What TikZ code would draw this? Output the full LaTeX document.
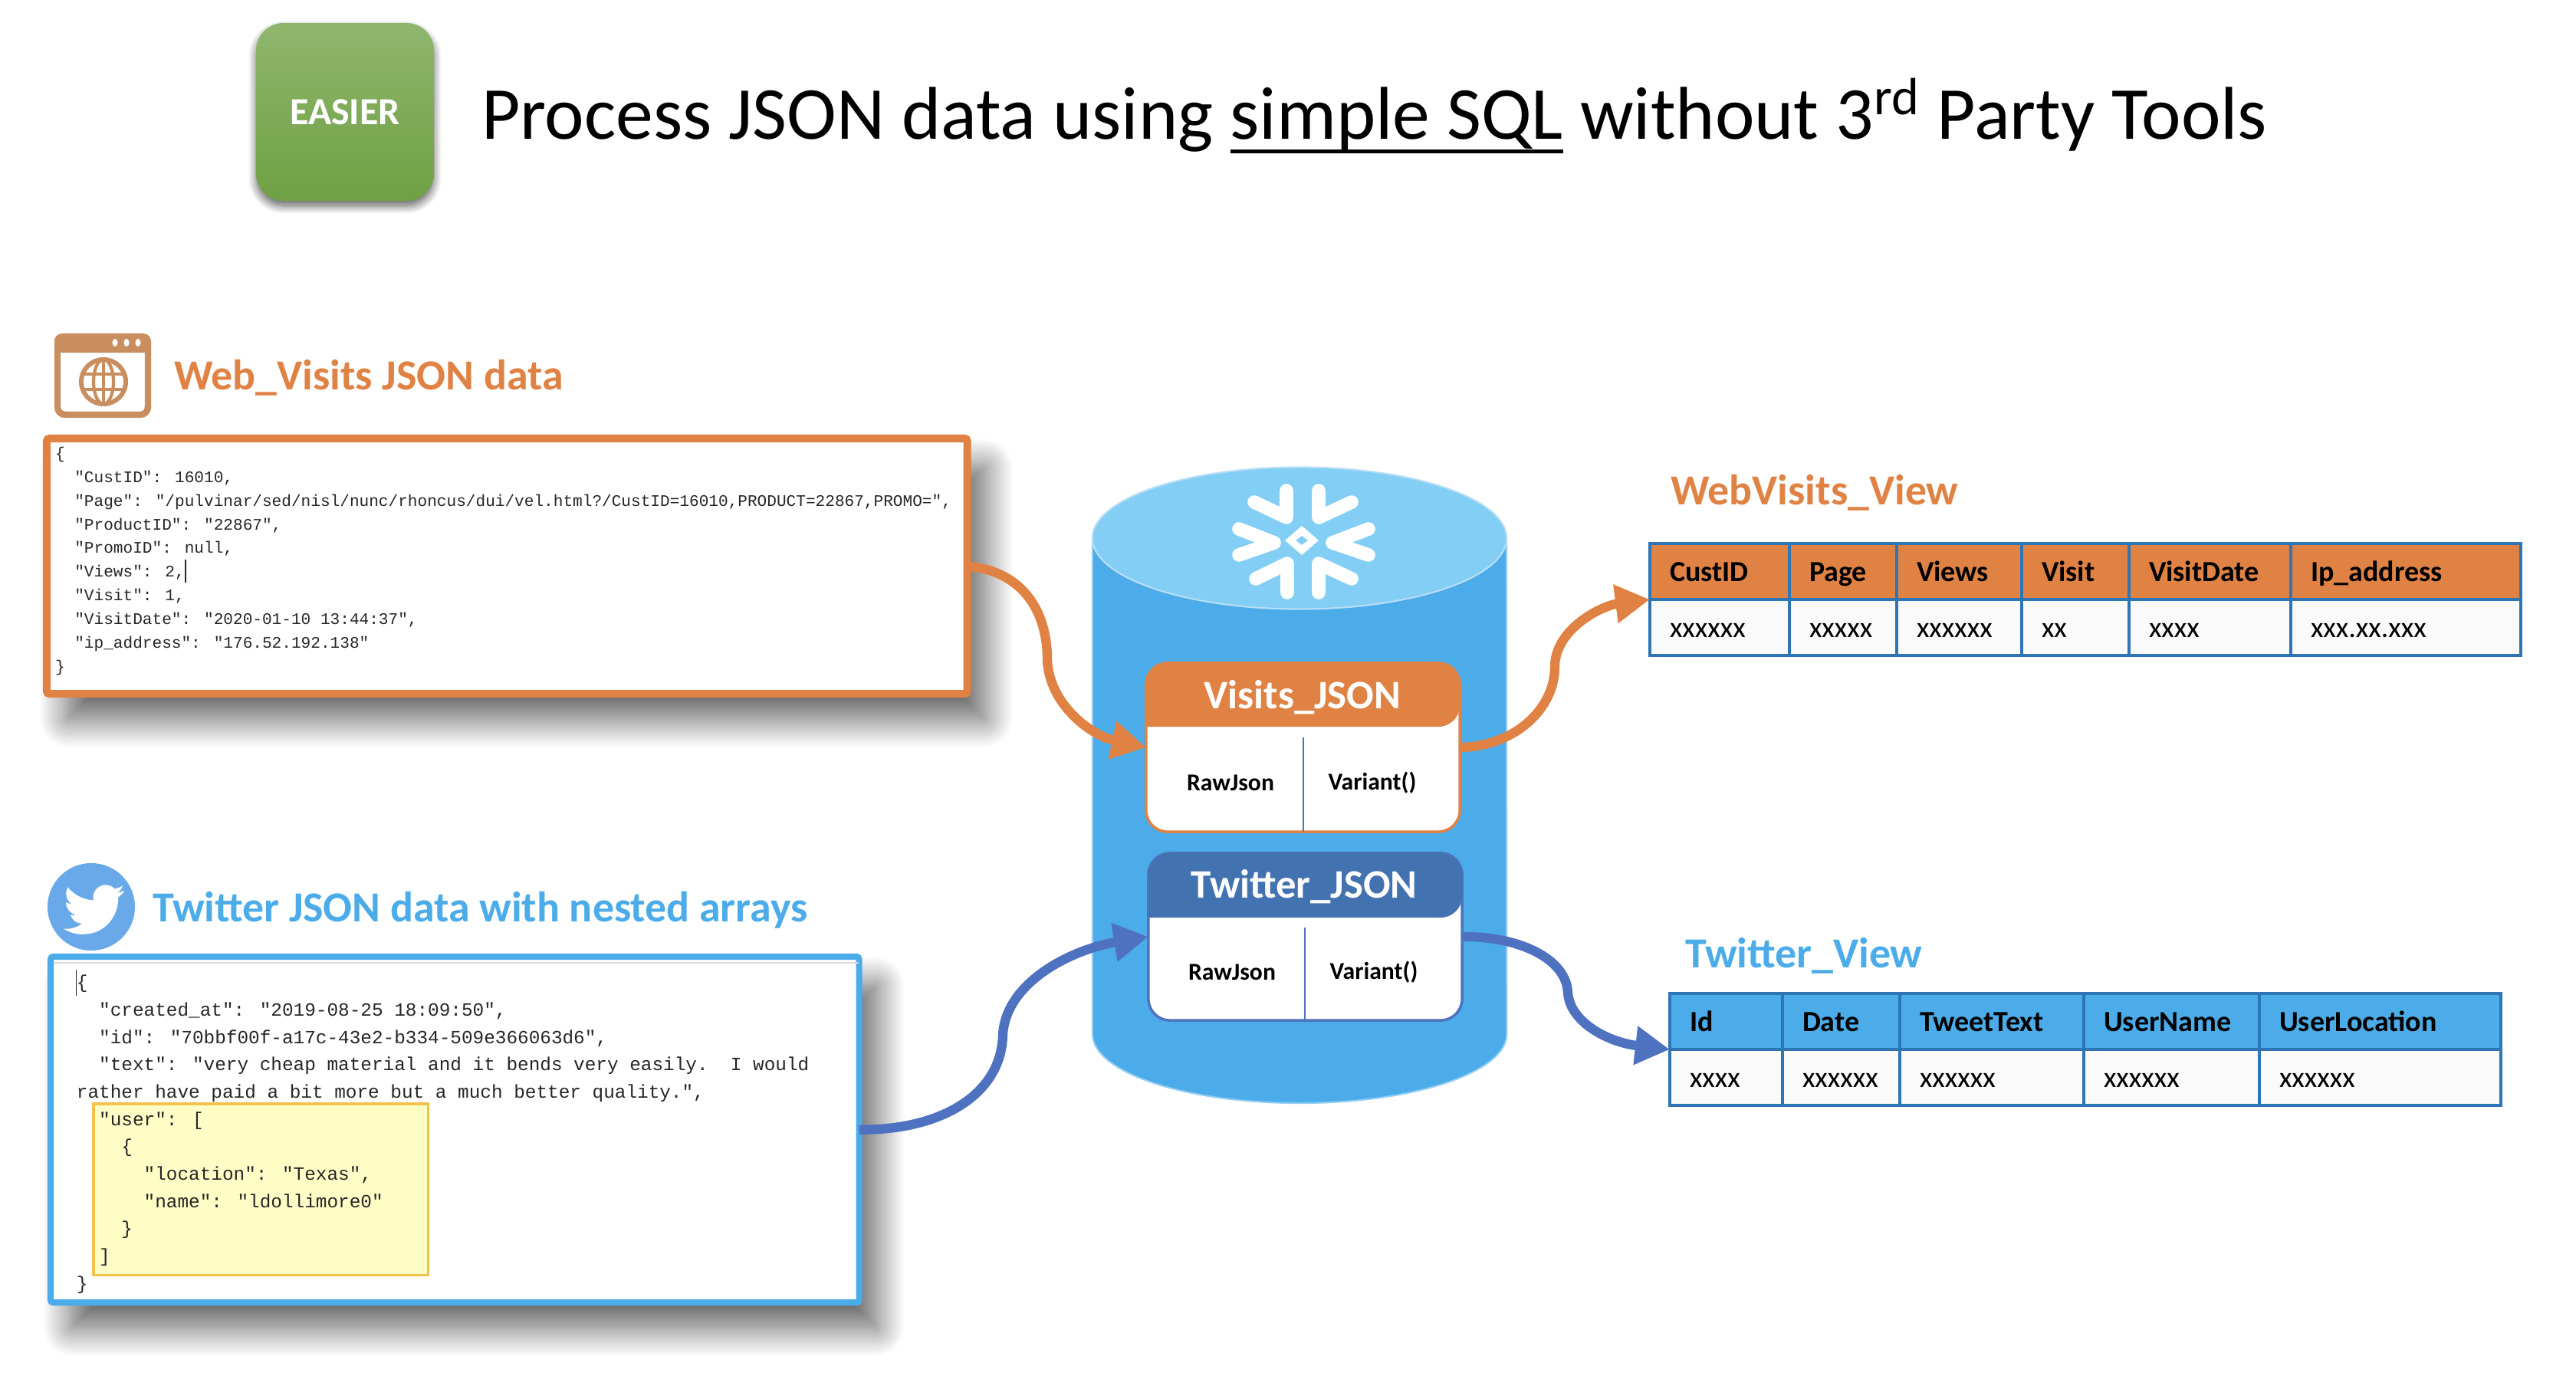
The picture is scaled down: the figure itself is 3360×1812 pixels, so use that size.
\documentclass[tikz,border=0pt]{standalone}
\usepackage{fontspec}
\setmainfont{Carlito}
\newfontfamily\codefont{Liberation Mono}
\usepackage{tikz}
\usetikzlibrary{calc, positioning, arrows.meta, shapes.geometric, shadows.blur}

\definecolor{orangeC}{HTML}{E08244}
\definecolor{blueC}{HTML}{4BACE9}
\definecolor{topC}{HTML}{83CEF4}
\definecolor{navyC}{HTML}{4272B0}
\definecolor{flowC}{HTML}{4E72C0}
\definecolor{lineC}{HTML}{2E75B6}
\definecolor{iconC}{HTML}{C98E5F}
\definecolor{birdC}{HTML}{6AA9E9}
\definecolor{greenTop}{HTML}{8FB66E}
\definecolor{greenBot}{HTML}{70A044}
\definecolor{noteFill}{HTML}{FFFDC6}
\definecolor{noteLine}{HTML}{F4C24A}

\newcommand{\ind}{\hspace*{1.2em}}
\newsavebox{\ulbox}
\newcommand{\heavyul}[1]{\sbox{\ulbox}{#1}\rlap{\rule[-5.5pt]{\wd\ulbox}{1.4pt}}\usebox{\ulbox}}

\tikzset{
    every node/.style={outer sep=0pt},
    srcbox/.style={rectangle, fill=white, anchor=north west, rounded corners=1pt,
        blur shadow={shadow xshift=.25cm, shadow yshift=-.35cm, shadow blur radius=.35cm, shadow opacity=60, shadow blur steps=24}},
    heading/.style={font=\fontsize{15.9}{19}\selectfont\bfseries, anchor=base west, inner sep=0pt},
    codetext/.style={anchor=north west, inner sep=0pt, align=left, text=black!85},
    jsontable/.style={rectangle, fill=white, rounded corners=.28cm, line width=1pt},
    colname/.style={font=\fontsize{9}{11}\selectfont\bfseries, inner sep=0pt},
    tabletitle/.style={font=\fontsize{15}{18}\selectfont\bfseries, text=white, inner sep=0pt},
    viewcell/.style={rectangle, draw=lineC, line width=1pt, anchor=north west, inner xsep=.26cm, inner ysep=0pt,
        minimum height=.73cm, align=left, text height=.25cm, text depth=0cm,
        font=\fontsize{10.8}{12}\selectfont},
    flow/.style={line width=3.5pt, -{Triangle[length=.45cm, width=.48cm]}},
    flake/.style={draw=white, line width=5pt, line cap=round, line join=round},
}

\begin{document}
\begin{tikzpicture}[x=.01cm, y=-.01cm]
    \useasboundingbox (0,0) rectangle (3360,1812);

    % headline
    \node (easier) [rectangle, minimum width=2.32cm, minimum height=2.32cm, rounded corners=.36cm,
        top color=greenTop, bottom color=greenBot,
        text=white, font=\fontsize{14.2}{16}\selectfont\bfseries,
        blur shadow={shadow xshift=0cm, shadow yshift=-.07cm, shadow blur radius=.1cm, shadow opacity=60, shadow blur steps=10}] at (450,146) {EASIER};
    \node (headline) [anchor=base west, inner sep=0pt, font=\fontsize{27.75}{32}\selectfont] at (628,181)
        {Process JSON data using \heavyul{simple SQL} without 3\textsuperscript{rd} Party Tools};

    % web visits source
    \draw[iconC, fill=white, line width=2.4pt, rounded corners=.1cm] (75,439) rectangle (193,541);
    \fill[iconC, rounded corners=.1cm] (71,435) rectangle (197,460);
    \foreach \dotx in {150,165,180} {
        \fill[white] (\dotx,447) ellipse [x radius=.035cm, y radius=.05cm];
    }
    \draw[iconC, line width=1.7pt] (135,498) circle [radius=.29cm];
    \draw[iconC, line width=1.2pt] (135,498) ellipse [x radius=.13cm, y radius=.29cm];
    \draw[iconC, line width=1.2pt] (135,469) -- (135,527) (109,488) -- (161,488) (109,508) -- (161,508);
    \node (webtitle) [heading, text=orangeC] at (227,508) {Web\_Visits JSON data};

    \node (webbox) [srcbox, draw=orangeC, line width=2.85pt, minimum width=12cm, minimum height=3.33cm] at (61,572) {};
    \node (webcode) [codetext, font=\codefont\fontsize{6}{8.79}\selectfont] at (72,583) {%
        \{\\
        \ind"CustID": 16010,\\
        \ind"Page": "/pulvinar/sed/nisl/nunc/rhoncus/dui/vel.html?/CustID=16010,PRODUCT=22867,PROMO=",\\
        \ind"ProductID": "22867",\\
        \ind"PromoID": null,\\
        \ind"Views": 2,\rule[-2pt]{.5pt}{8.6pt}\\
        \ind"Visit": 1,\\
        \ind"VisitDate": "2020-01-10 13:44:37",\\
        \ind"ip\_address": "176.52.192.138"\\
        \}};

    % twitter source
    \node (birdicon) [circle, fill=birdC, minimum size=1.14cm, inner sep=0pt] at (119,1183) {};
    \begin{scope}[shift={(83,1147)}, x=.033cm, y=-.033cm]
        \fill[white] (23.95,4.57) .. controls (23.07,4.96) and (22.12,5.22) .. (21.13,5.345)
            .. controls (22.14,4.73) and (22.93,3.77) .. (23.29,2.62)
            .. controls (22.34,3.18) and (21.29,3.58) .. (20.16,3.80)
            .. controls (19.26,2.85) and (18.03,2.25) .. (16.57,2.25)
            .. controls (13.85,2.25) and (11.65,4.45) .. (11.65,7.17)
            .. controls (11.65,7.56) and (11.70,7.93) .. (11.78,8.29)
            .. controls (7.69,8.095) and (4.067,6.13) .. (1.64,3.162)
            .. controls (1.22,3.89) and (.974,4.73) .. (.974,5.637)
            .. controls (.974,7.347) and (1.844,8.85) .. (3.162,9.733)
            .. controls (2.35,9.71) and (1.59,9.48) .. (.934,9.117)
            -- (.934,9.177)
            .. controls (.934,11.56) and (2.63,13.55) .. (4.88,14.004)
            .. controls (4.17,14.19) and (3.41,14.22) .. (2.668,14.089)
            .. controls (3.29,16.04) and (5.11,17.46) .. (7.272,17.506)
            .. controls (5.58,18.83) and (3.45,19.611) .. (1.17,19.611)
            .. controls (.78,19.611) and (.391,19.588) .. (0,19.544)
            .. controls (2.18,20.94) and (4.77,21.753) .. (7.557,21.753)
            .. controls (16.61,21.753) and (21.555,14.257) .. (21.555,7.768)
            .. controls (21.555,7.558) and (21.555,7.348) .. (21.54,7.138)
            .. controls (22.5,6.45) and (23.33,5.58) .. (24,4.59) -- cycle;
    \end{scope}
    \node (tweettitle) [heading, text=blueC] at (199,1202) {Twitter JSON data with nested arrays};

    \node (tweetbox) [srcbox, draw=blueC, line width=2.3pt, minimum width=10.54cm, minimum height=4.51cm] at (66,1248) {};
    \draw[black!15, line width=.6pt] (70,1256) -- (1120,1256);
    \node (nested) [rectangle, draw=noteLine, fill=noteFill,
        line width=.9pt, minimum width=4.36cm, minimum height=2.23cm, anchor=north west] at (122,1440) {};
    \node (tweetcode) [codetext, font=\codefont\fontsize{6.93}{10.14}\selectfont] at (100,1265) {%
        \llap{\rule[-2.5pt]{.4pt}{9.6pt}}\{\\
        \ind"created\_at": "2019-08-25 18:09:50",\\
        \ind"id": "70bbf00f-a17c-43e2-b334-509e366063d6",\\
        \ind"text": "very cheap material and it bends very easily.~~I would\\
        rather have paid a bit more but a much better quality.",\\
        \ind"user": [\\
        \ind\ind\{\\
        \ind\ind\ind"location": "Texas",\\
        \ind\ind\ind"name": "ldollimore0"\\
        \ind\ind\}\\
        \ind]\\
        \}};

    % warehouse cylinder
    \path[fill=blueC, draw=blueC!60!white, line width=.6pt] (1425,702) -- (1425,1349)
        arc[start angle=180, end angle=360, x radius=2.7cm, y radius=.9cm] -- (1965,702) -- cycle;
    \node (dbtop) [ellipse, fill=topC, draw=blueC!40!white, line width=.6pt, minimum width=5.4cm, minimum height=1.85cm, inner sep=0pt] at (1695,702) {};
    \begin{scope}[shift={(1698,705)}]
        \draw[flake] (-20,-65) -- (-20,-30) -- (-62,-50);
        \draw[flake] (22,-65) -- (22,-30) -- (65,-50);
        \draw[flake] (-82,-15) -- (-36,3) -- (-82,19);
        \draw[flake] (87,-15) -- (40,3) -- (87,19);
        \draw[flake] (-19,68) -- (-19,30) -- (-60,50);
        \draw[flake] (22,68) -- (22,30) -- (65,50);
        \fill[white, even odd rule] (0,-19) -- (22,0) -- (0,19) -- (-22,0) -- cycle
            (0,-6) -- (8,0) -- (0,6) -- (-8,0) -- cycle;
    \end{scope}

    % tables inside the cylinder
    \node (visits) [jsontable, draw=orangeC, minimum width=4.09cm, minimum height=2.2cm] at (1699.5,975) {};
    \fill[orangeC] (visits.west |- 0,948) [rounded corners=.28cm] -- (visits.north west) -- (visits.north east) -- (visits.east |- 0,948) [sharp corners] -- cycle;
    \node (visitsname) [tabletitle] at (1699,910) {Visits\_JSON};
    \coordinate (visitsdiv) at (1700,962);
    \draw[flowC, line width=.8pt] (visitsdiv) -- (visitsdiv |- visits.south);
    \node (visitsraw) [colname] at (1605,1021) {RawJson};
    \node (visitsvar) [colname] at (1790,1021) {Variant()};

    \node (tweets) [jsontable, draw=flowC, minimum width=4.09cm, minimum height=2.18cm] at (1702.5,1222) {};
    \fill[navyC] (tweets.west |- 0,1197) [rounded corners=.28cm] -- (tweets.north west) -- (tweets.north east) -- (tweets.east |- 0,1197) [sharp corners] -- cycle;
    \node (tweetsname) [tabletitle] at (1701,1157) {Twitter\_JSON};
    \coordinate (tweetsdiv) at (1702,1210);
    \draw[flowC, line width=.8pt] (tweetsdiv) -- (tweetsdiv |- tweets.south);
    \node (tweetsraw) [colname] at (1607,1268) {RawJson};
    \node (tweetsvar) [colname] at (1792,1268) {Variant()};

    % views
    \node (webview) [heading, text=orangeC] at (2179,658) {WebVisits\_View};
    \foreach \cname/\xa/\xb/\head/\val in {cust/2152/2334/CustID/xxxxxx, page/2334/2474/Page/xxxxx, views/2474/2637/Views/xxxxxx,
        visit/2637/2777/Visit/xx, vdate/2777/2988/VisitDate/xxxx, addr/2988/3288/Ip\_address/xxx.xx.xxx} {
        \pgfmathsetmacro\cellw{(\xb-\xa)*.01-.52}
        \node (wv\cname) [viewcell, fill=orangeC, text width=\cellw cm] at (\xa,709) {\bfseries\head};
        \node (wv\cname b) [viewcell, fill=black!2, text width=\cellw cm] at (\xa,782) {\val};
    }

    \node (tweetview) [heading, text=blueC] at (2198,1262) {Twitter\_View};
    \foreach \cname/\xa/\xb/\head/\val in {id/2178/2325/Id/xxxx, date/2325/2478/Date/xxxxxx, text/2478/2718/TweetText/xxxxxx,
        user/2718/2947/UserName/xxxxxx, loc/2947/3262/UserLocation/xxxxxx} {
        \pgfmathsetmacro\cellw{(\xb-\xa)*.01-.52}
        \node (tv\cname) [viewcell, fill=blueC, text width=\cellw cm] at (\xa,1296) {\bfseries\head};
        \node (tv\cname b) [viewcell, fill=black!2, text width=\cellw cm] at (\xa,1369) {\val};
    }

    % flows
    \coordinate (inbendA) at (1366,860);
    \coordinate (inbendB) at (1308,1350);
    \coordinate (outbendA) at (2028,870);
    \coordinate (outbendB) at (2045,1295);
    \draw[flow, orangeC] (webbox.east) .. controls (1336,745) and (1366,800) .. (inbendA)
        .. controls (1368,920) and (1425,960) .. (visits.west);
    \draw[flow, flowC] (tweetbox.east) .. controls (1224,1475) and (1306,1430) .. (inbendB)
        .. controls (1312,1280) and (1400,1238) .. (tweets.west);
    \draw[flow, orangeC] (visits.east) .. controls (1975,974) and (2028,925) .. (outbendA)
        .. controls (2028,820) and (2090,790) .. (wvcust.south west);
    \draw[flow, flowC] (tweets.east) .. controls (1980,1221) and (2043,1250) .. (outbendB)
        .. controls (2048,1335) and (2100,1360) .. (tvid.south west);
\end{tikzpicture}
\end{document}
